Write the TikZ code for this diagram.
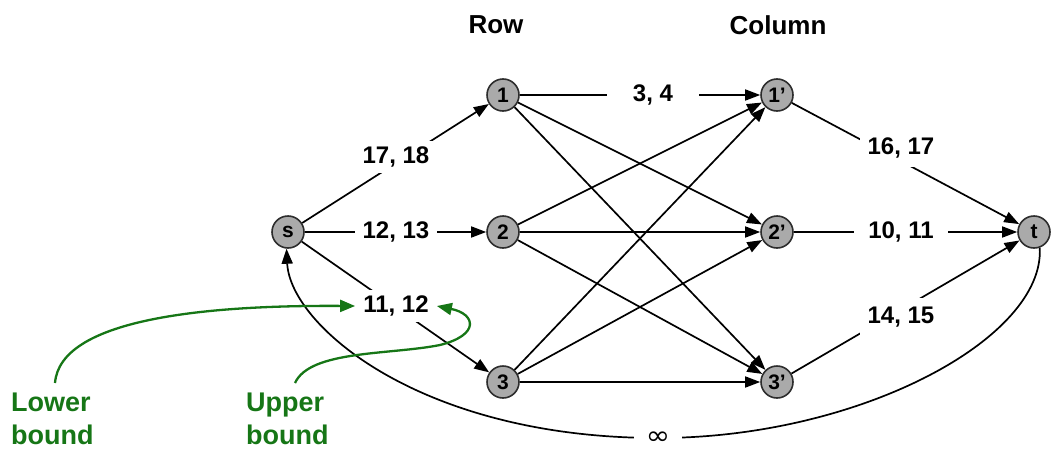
\documentclass[tikz,border=0pt]{standalone}
\usepackage{fontspec}
\setmainfont{Liberation Sans}
\newfontfamily\dejavu{DejaVu Sans}
\usetikzlibrary{arrows.meta}
\definecolor{ngray}{RGB}{170,170,170}
\definecolor{nborder}{RGB}{45,45,45}
\definecolor{dgreen}{RGB}{22,118,22}
\begin{document}
\begin{tikzpicture}[x=1pt,y=-1pt,
  vert/.style={circle,draw=nborder,line width=1.6pt,fill=ngray,minimum size=32pt,inner sep=0pt,font=\fontsize{21}{21}\selectfont\bfseries},
  arr/.style={line width=1.7pt,-{Triangle[length=15pt,width=11pt]}},
  lbl/.style={fill=white,inner xsep=8pt,inner ysep=6pt,font=\fontsize{24}{24}\selectfont\bfseries},
  ttl/.style={font=\fontsize{26}{26}\selectfont\bfseries},
  gtxt/.style={text=dgreen,align=left,font=\fontsize{27}{33}\selectfont\bfseries},
  garr/.style={draw=dgreen,line width=2.3pt,-{Triangle[length=15pt,width=12pt]}}
]
\useasboundingbox (0,0) rectangle (1052,450);

% nodes
\node[vert] (s) at (288,232) {s};
\node[vert] (n1) at (503,95) {1};
\node[vert] (n2) at (503,232) {2};
\node[vert] (n3) at (503,382) {3};
\node[vert] (m1) at (777,95) {1'};
\node[vert] (m2) at (777,232) {2'};
\node[vert] (m3) at (777,382) {3'};
\node[vert] (t) at (1034,232) {t};

% titles
\node[ttl] (row) at (496,25) {Row};
\node[ttl] (col) at (778,25) {Column};

% edges
\draw[arr] (s) -- (n1);
\draw[arr] (s) -- (n2);
\draw[arr] (s) -- (n3);
\foreach \a in {n1,n2,n3}{
  \foreach \b in {m1,m2,m3}{
    \draw[arr] (\a) -- (\b);
  }
}
\draw[arr] (m1) -- (t);
\draw[arr] (m2) -- (t);
\draw[arr] (m3) -- (t);

% infinity arc
\coordinate (infc) at (658,438);
\draw[arr] (t.-70) .. controls (1045,338) and (860,438) .. (infc)
  .. controls (420,438) and (290,325) .. (s.-95);

% labels
\node[lbl] (l1) at (396,157) {17, 18};
\node[lbl] (l2) at (396,232) {12, 13};
\node[lbl] (l3) at (396,306) {11, 12};
\node[lbl,inner xsep=26pt] (l4) at (653,95) {3, 4};
\node[lbl,inner ysep=9pt] (l5) at (901,148) {16, 17};
\node[lbl,inner xsep=14pt] (l6) at (901,232) {10, 11};
\node[lbl,inner ysep=9pt] (l7) at (901,317) {14, 15};
\node[fill=white,anchor=base,inner xsep=12pt,inner ysep=1pt,font=\dejavu\fontsize{26}{26}\selectfont] (inf) at (658,444) {\scalebox{1.12}[1]{∞}};

% green annotations
\node[gtxt,anchor=north west,inner sep=0pt] (lb) at (11,393) {Lower\\bound};
\node[gtxt,anchor=north west,inner sep=0pt] (ub) at (246,393) {Upper\\bound};
\draw[garr] (lb.north -| 55,0) ++(0,-10) .. controls (60,320) and (200,305) .. (l3.west);
\draw[garr] (ub.north -| 295,0) ++(0,-10) .. controls (310,350) and (390,355) .. (440,345)
  .. controls (480,335) and (476,314) .. (l3.east);
\end{tikzpicture}
\end{document}
